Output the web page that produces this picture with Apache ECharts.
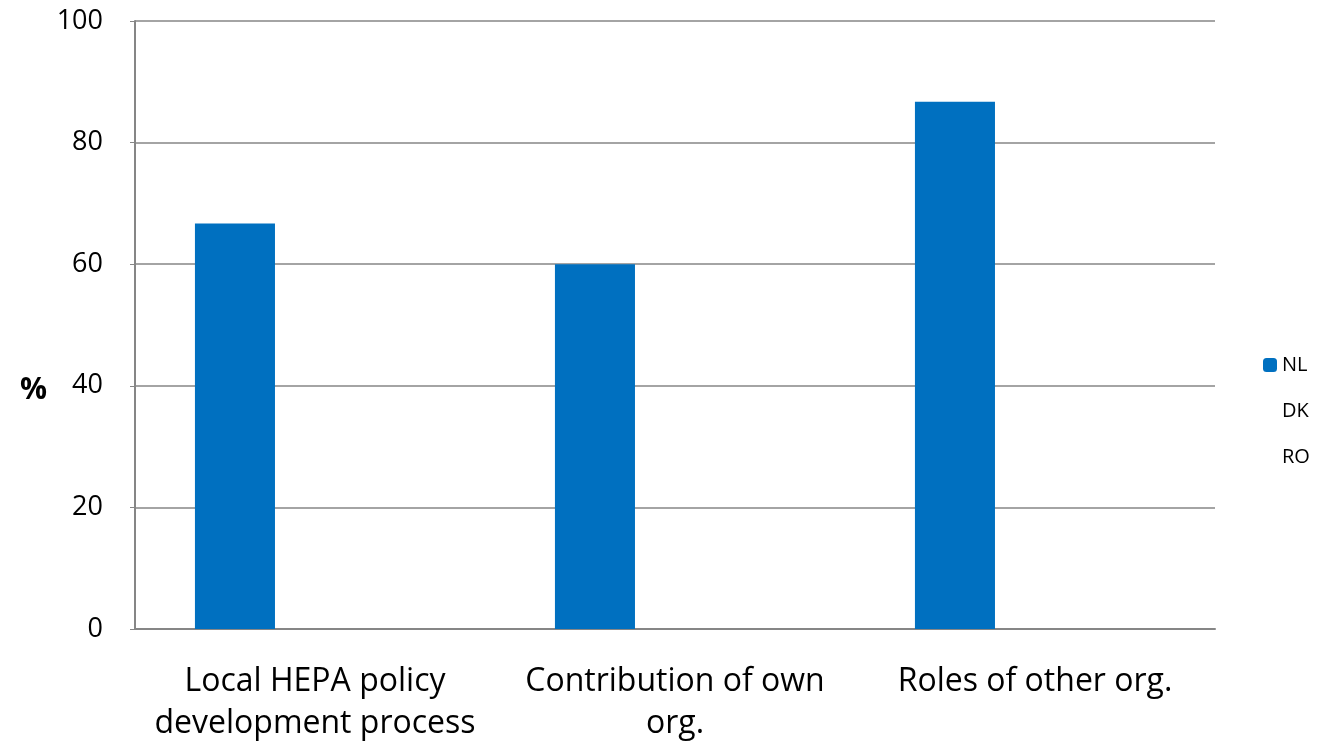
<!DOCTYPE html>
<html>
<head>
<meta charset="utf-8">
<script src="https://cdn.jsdelivr.net/npm/echarts@6/dist/echarts.min.js"></script>
<style>
  html, body { margin: 0; padding: 0; background: #fff; }
  #chart { width: 1322px; height: 745px; }
</style>
</head>
<body>
<div id="chart"></div>
<script>
// data
const categories = ['Local HEPA policy\ndevelopment process', 'Contribution of own\norg.', 'Roles of other org.']
const nlValues = [66.7, 60, 86.7]
const dkValues = [null, null, null]
const roValues = [null, null, null]
const yTicks = { min: 0, max: 100, interval: 20 }

const chart = echarts.init(document.getElementById('chart'))
const font = '"Open Sans", "Liberation Sans", sans-serif'

const option = {
  animation: false,
  textStyle: { fontFamily: font },
  grid: {
    top: 21,
    left: 135,
    right: 107,
    bottom: 109,
    containLabel: false
  },
  graphic: [
    {
      type: 'text',
      left: 20,
      top: 375,
      style: { text: '%', fontSize: 30, fontWeight: 'bold', fill: '#000', fontFamily: font }
    }
  ],
  legend: {
    orient: 'vertical',
    left: 1258,
    top: 350,
    itemWidth: 14,
    itemHeight: 14,
    itemGap: 26,
    textStyle: { fontSize: 20, color: '#000', fontFamily: font },
    data: ['NL', 'DK', 'RO']
  },
  xAxis: {
    type: 'category',
    data: categories,
    axisTick: { show: false },
    axisLine: { lineStyle: { color: '#868686', width: 2 } },
    axisLabel: {
      color: '#000',
      fontSize: 32,
      lineHeight: 42,
      margin: 32,
      interval: 0
    }
  },
  yAxis: {
    type: 'value',
    min: yTicks.min,
    max: yTicks.max,
    interval: yTicks.interval,
    axisLine: { show: true, lineStyle: { color: '#868686', width: 2 } },
    axisTick: { show: true, length: 5, lineStyle: { color: '#868686' } },
    axisLabel: { color: '#000', fontSize: 27, margin: 32 },
    splitLine: { show: true, lineStyle: { color: '#868686', width: 1.5 } }
  },
  series: [
    {
      name: 'NL',
      type: 'bar',
      data: nlValues,
      barGap: '0%',
      barCategoryGap: '33.3%',
      itemStyle: { color: '#0070C0' }
    },
    {
      name: 'DK',
      type: 'bar',
      data: dkValues,
      itemStyle: { color: 'rgba(0,0,0,0)' }
    },
    {
      name: 'RO',
      type: 'bar',
      data: roValues,
      itemStyle: { color: 'rgba(0,0,0,0)' }
    }
  ]
}

chart.setOption(option)
</script>
</body>
</html>
